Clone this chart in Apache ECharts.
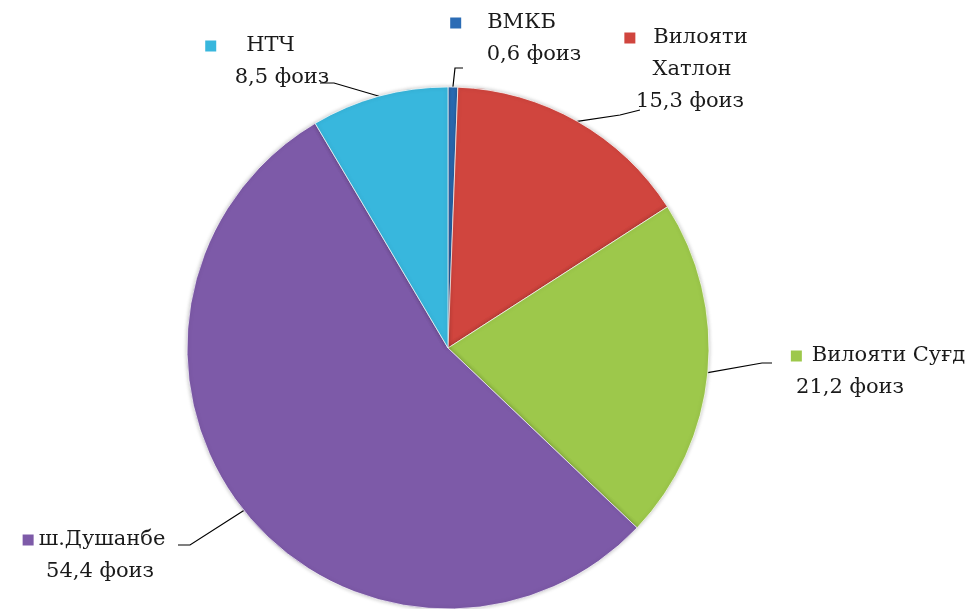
<!DOCTYPE html>
<html>
<head>
<meta charset="utf-8">
<script src="https://cdn.jsdelivr.net/npm/echarts@6/dist/echarts.min.js"></script>
<style>
  html, body { margin: 0; padding: 0; background: #fff; }
  #chart { width: 977px; height: 609px; }
</style>
</head>
<body>
<div id="chart"></div>
<script>
// slice data, clockwise from 12 o'clock
const names = ['ВМКБ', 'Вилояти\nХатлон', 'Вилояти Суғд', 'ш.Душанбе', 'НТЧ']
const values = [0.6, 15.3, 21.2, 54.4, 8.5]
const colors = ['#2b6cb5', '#d0453e', '#9dc84b', '#7d5aa8', '#38b7dd']

// label block centres, per-line nudges and the bend/end of each leader line
const labelPos = [[520, 39], [690, 70], [878, 372], [96, 556], [272, 62]]
const lineShift = [[-17, 14], [-4, 2, 0], [0, -28], [-2, 4], [-22, 10]]
const squareGap = [26, 18, 10, 5, 30]
const leaderEnds = [
  [[455, 68], [463, 68]],
  [[620, 115], [640, 110]],
  [[762, 363], [772, 363]],
  [[190, 545], [178, 545]],
  [[334, 83], [320, 83]]
]

const chartDom = document.getElementById('chart')
const myChart = echarts.init(chartDom)

const rich = {}
colors.forEach((c, i) => {
  rich['sq' + i] = { backgroundColor: c, width: 11, height: 11, padding: 0 }
})
rich.t = { fontFamily: 'DejaVu Serif', fontSize: 21, color: '#1a1a1a', lineHeight: 32 }

// add an invisible spacer so a centred line moves sideways by `off` px
function spacer(w) {
  const key = 'sp' + w
  if (!rich[key]) rich[key] = { width: w, fontSize: 10 }
  return '{' + key + '|}'
}
function shiftLine(s, off) {
  if (!off) return s
  const w = Math.abs(off) * 2
  return off > 0 ? spacer(w) + s : s + spacer(w)
}

const data = names.map((n, i) => {
  const parts = n.split('\n')
  const lines = []
  lines.push('{sq' + i + '|}' + spacer(squareGap[i]) + '{t|' + parts[0] + '}')
  for (let k = 1; k < parts.length; k++) lines.push('{t|' + parts[k] + '}')
  lines.push('{t|' + values[i].toFixed(1).replace('.', ',') + ' фоиз}')
  const txt = lines.map((l, k) => shiftLine(l, lineShift[i][k])).join('\n')
  return {
    name: n,
    value: values[i],
    itemStyle: { color: colors[i] },
    label: { formatter: txt }
  }
})

const option = {
  animation: false,
  series: [
    {
      type: 'pie',
      center: [448, 348],
      radius: 261,
      startAngle: 90,
      clockwise: true,
      data: data,
      itemStyle: {
        borderColor: 'rgba(255,255,255,0.7)',
        borderWidth: 1,
        shadowBlur: 4,
        shadowColor: 'rgba(0,0,0,0.25)'
      },
      label: {
        show: true,
        position: 'outside',
        align: 'center',
        rich: rich,
        color: '#1a1a1a'
      },
      labelLine: {
        show: true,
        length: 15,
        length2: 10,
        lineStyle: { color: '#000', width: 1.2 }
      },
      labelLayout: function (params) {
        const i = params.dataIndex
        const p = labelPos[i]
        const start = params.labelLinePoints ? params.labelLinePoints[0] : null
        const out = {
          x: p[0],
          y: p[1],
          align: 'center',
          verticalAlign: 'middle'
        }
        if (start) out.labelLinePoints = [start, leaderEnds[i][0], leaderEnds[i][1]]
        return out
      }
    }
  ]
}
myChart.setOption(option)
</script>
</body>
</html>
